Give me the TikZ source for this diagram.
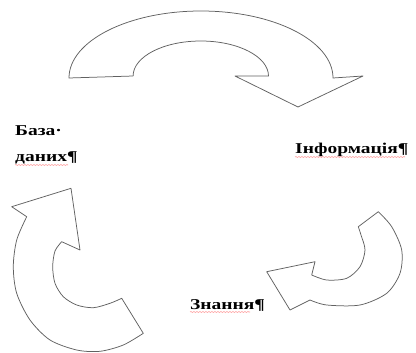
\documentclass[tikz,border=0pt]{standalone}
\usepackage{fontspec}
\setmainfont{Liberation Serif}
\newfontfamily\lblfont{Liberation Serif}[FakeStretch=1.3]
\usetikzlibrary{decorations.pathmorphing}
\begin{document}
\begin{tikzpicture}[x=1pt,y=-1pt,
  blockarrow/.style={draw=black!62, line width=0.75pt, fill=white, line join=round},
  lbl/.style={font=\lblfont\fontsize{15}{18}\selectfont\bfseries, inner sep=0pt, anchor=base west},
  spell/.style={draw=red!40, line width=0.6pt, decorate,
    decoration={snake, amplitude=0.5pt, segment length=3pt}}]
\useasboundingbox (0,0) rectangle (416,353);

% top curved arrow
\draw[blockarrow] (69,78) arc[start angle=180, end angle=360, x radius=132, y radius=67]
  -- (363,76) -- (298,107) -- (235,76) -- (268.5,76)
  arc[start angle=0, end angle=-180, x radius=67.7, y radius=35] -- cycle;

% bottom-left curved arrow
\draw[blockarrow] (11.7,206.7) -- (71,188.3) -- (80,250) -- (61.7,241.7)
  -- plot[smooth] coordinates {(61.7,241.7) (55,251) (52.7,266.7) (55,283.3) (63.3,296.7) (76.7,305) (93.3,307.7) (110,303.3) (121.7,298.3)}
  -- (143.3,333.3)
  -- plot[smooth] coordinates {(143.3,333.3) (123.3,345) (100,351.3) (76.7,350) (50,340) (30,320) (16.7,293.3) (13.3,266.7) (16.7,240) (26.7,216.7)}
  -- cycle;

% bottom-right curved arrow
\draw[blockarrow] (378.3,211.7)
  -- plot[smooth] coordinates {(378.3,211.7) (391.7,226.7) (401.7,250) (400,273.3) (386.7,293.3) (360,305) (326.7,305) (310,300)}
  -- (290,310) -- (266.7,271.7) -- (315,261.7) -- (311.7,275)
  -- plot[smooth] coordinates {(311.7,275) (326.7,280) (346.7,278.3) (360,266.7) (365,250) (361,235) (358.3,226.7)}
  -- cycle;

% labels
\node[lbl] (baza) at (15,136) {База·};
\node[lbl] (danykh) at (15,162) {даних¶};
\node[lbl] (info) at (295,154) {Інформація¶};
\node[lbl] (znannia) at (190,309) {Знання¶};

% spell-check underlines
\draw[spell] ([yshift=-3pt]danykh.base west) -- ++(53,0);
\draw[spell] ([yshift=-3pt]info.base west) -- ++(110,0);
\draw[spell] ([yshift=-3pt]znannia.base west) -- ++(60,0);
\end{tikzpicture}
\end{document}
